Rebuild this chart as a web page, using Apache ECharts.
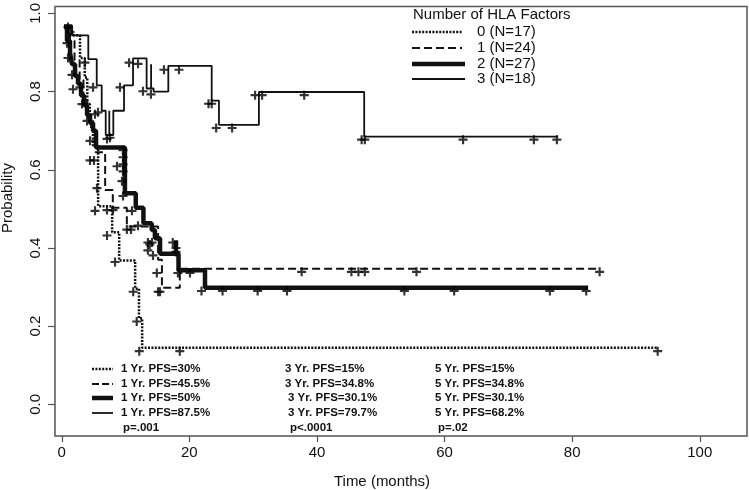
<!DOCTYPE html>
<html><head><meta charset="utf-8">
<script src="https://cdn.jsdelivr.net/npm/echarts@6/dist/echarts.min.js"></script>
<style>html,body{margin:0;padding:0;background:#fff}#c{width:749px;height:490px}</style>
</head><body><div id="c"></div>
<script>
// ---- data ----
const xTicks = [0, 20, 40, 60, 80, 100];
const yTicks = [0, 0.2, 0.4, 0.6, 0.8, 1.0];
const legendTitle = 'Number of HLA Factors';
const groupNames = ['0 (N=17)', '1 (N=24)', '2 (N=27)', '3 (N=18)'];

// Step points: time (months), survival probability from that time on
const g0Time = [0.35, 1.6, 2.86, 3.6, 4.0, 4.4, 4.9, 5.7, 7.9, 9.0, 11.5, 12.1, 12.6, 93.4];
const g0Surv = [0.965, 0.944, 0.886, 0.836, 0.768, 0.725, 0.66, 0.507, 0.44, 0.368, 0.296, 0.22, 0.145, 0.145];

const g1Time = [0.35, 1.3, 2.0, 2.8, 3.4, 4.0, 4.6, 5.3, 6.8, 8.0, 10.2, 15.1, 15.7, 18.5, 84.3];
const g1Surv = [0.965, 0.93, 0.88, 0.83, 0.78, 0.74, 0.70, 0.645, 0.548, 0.503, 0.455, 0.37, 0.298, 0.347, 0.347];

const g2Time = [0.35, 0.82, 1.29, 1.6, 2.08, 2.55, 3.02, 3.49, 3.96, 4.43, 4.9, 5.37, 9.9, 11.6, 12.8, 14.1, 14.6, 15.4, 17.9, 17.9, 18.3, 22.45, 82.5];
const g2Surv = [0.965, 0.93, 0.90, 0.87, 0.84, 0.82, 0.79, 0.765, 0.74, 0.72, 0.70, 0.657, 0.54, 0.503, 0.463, 0.446, 0.425, 0.385, 0.42, 0.385, 0.343, 0.298, 0.298];

const g3Time = [0.35, 1.6, 4.16, 5.48, 6.26, 6.89, 7.45, 7.45, 8.08, 9.76, 11.17, 13.3, 14.0, 14.0, 14.4, 16.7, 23.5, 24.64, 30.9, 47.4, 77.8];
const g3Surv = [0.97, 0.944, 0.883, 0.816, 0.751, 0.689, 0.751, 0.689, 0.751, 0.816, 0.885, 0.808, 0.870, 0.808, 0.800, 0.866, 0.777, 0.715, 0.799, 0.685, 0.685];

// Censoring marks [time, probability]
const g0Censor = [[5.21,0.495],[7.09,0.432],[8.35,0.364],[11.2,0.288],[11.75,0.212],[12.15,0.136],[18.5,0.136],[93.4,0.136]];
const g1Censor = [[0.98,0.886],[2.86,0.811],[4.9,0.811],[5.05,0.624],[4.43,0.624],[5.52,0.553],[8.66,0.609],[7.09,0.497],[8.03,0.497],[10.2,0.447],[10.85,0.447],[11.95,0.457],[13.8,0.409],[13.5,0.394],[14.3,0.381],[14.9,0.336],[15.1,0.288],[15.4,0.288],[17.4,0.414],[37.6,0.339],[45.4,0.339],[46.5,0.339],[47.5,0.339],[55.6,0.339],[84.3,0.339]];
const g2Censor = [[0.82,0.924],[1.61,0.843],[1.76,0.806],[3.17,0.768],[3.96,0.725],[4.43,0.674],[5.21,0.742],[5.68,0.747],[9.6,0.65],[9.6,0.632],[9.6,0.614],[9.6,0.596],[9.44,0.571],[9.6,0.533],[11.0,0.495],[13.5,0.414],[14.14,0.414],[17.9,0.40],[17.9,0.39],[18.2,0.336],[20.1,0.336],[21.9,0.29],[25.2,0.29],[30.7,0.29],[35.3,0.29],[53.7,0.29],[61.5,0.29],[76.5,0.29],[82.2,0.29]];
const g3Censor = [[0.98,0.965],[1.29,0.952],[3.64,0.874],[9.13,0.811],[7.09,0.679],[7.56,0.682],[10.55,0.874],[11.95,0.871],[12.73,0.801],[13.98,0.793],[16.02,0.856],[18.37,0.856],[23.0,0.769],[23.5,0.769],[24.2,0.707],[26.7,0.707],[30.3,0.791],[31.4,0.791],[38.0,0.791],[47.0,0.677],[47.5,0.677],[62.9,0.677],[74.0,0.677],[77.6,0.677]];

const pfs1 = ['1 Yr. PFS=30%', '1 Yr. PFS=45.5%', '1 Yr. PFS=50%', '1 Yr. PFS=87.5%'];
const pfs3 = ['3 Yr. PFS=15%', '3 Yr. PFS=34.8%', '3 Yr. PFS=30.1%', '3 Yr. PFS=79.7%'];
const pfs5 = ['5 Yr. PFS=15%', '5 Yr. PFS=34.8%', '5 Yr. PFS=30.1%', '5 Yr. PFS=68.2%'];
const pValues = ['p=.001', 'p<.0001', 'p=.02'];

// ---- chart ----
const INK = '#111';
const FONT = '"Liberation Sans", Arial, sans-serif';
const lineStyles = [
  { width: 2.5, type: [2, 1.4] },
  { width: 2, type: [8, 4] },
  { width: 4.5, type: 'solid' },
  { width: 1.8, type: 'solid' }
];
const times = [g0Time, g1Time, g2Time, g3Time];
const survs = [g0Surv, g1Surv, g2Surv, g3Surv];
const censors = [g0Censor, g1Censor, g2Censor, g3Censor];
const PLUS = 'path://M3.8,0H6.2V3.8H10V6.2H6.2V10H3.8V6.2H0V3.8H3.8Z';

const series = [];
for (let i = 0; i < 4; i++) {
  series.push({
    name: groupNames[i], type: 'line', step: 'end', symbol: 'none', silent: true,
    data: times[i].map((t, k) => [t, survs[i][k]]),
    lineStyle: { color: INK, width: lineStyles[i].width, type: lineStyles[i].type, cap: 'butt' },
    z: 2
  });
}
for (let i = 0; i < 4; i++) {
  series.push({
    name: groupNames[i] + ' censored', type: 'scatter', symbol: PLUS, symbolSize: 9,
    data: censors[i], itemStyle: { color: '#000' }, silent: true, z: 3
  });
}

const graphic = [];
// legend (top right)
graphic.push({ type: 'text', left: 413, top: 7, style: { text: legendTitle, font: '15px ' + FONT, fill: INK } });
const legRows = [32, 48, 64, 79];
for (let i = 0; i < 4; i++) {
  const ls = lineStyles[i];
  graphic.push({ type: 'line', shape: { x1: 412, y1: legRows[i], x2: i < 2 ? 462 : 465, y2: legRows[i] },
    style: { stroke: INK, lineWidth: ls.width, lineDash: Array.isArray(ls.type) ? ls.type : null } });
  graphic.push({ type: 'text', x: 477, y: legRows[i], style: { text: groupNames[i], font: '15px ' + FONT, fill: INK, verticalAlign: 'middle' } });
}
// PFS block (bottom)
const rowsY = [369, 384, 398, 413];
const col2X = [285, 285, 288, 288];
for (let i = 0; i < 4; i++) {
  const ls = lineStyles[i];
  graphic.push({ type: 'line', shape: { x1: 92, y1: rowsY[i], x2: 113, y2: rowsY[i] },
    style: { stroke: INK, lineWidth: ls.width, lineDash: Array.isArray(ls.type) ? (i === 1 ? [7, 3] : ls.type) : null } });
  graphic.push({ type: 'text', x: 121, y: rowsY[i], style: { text: pfs1[i], font: 'bold 11.5px ' + FONT, fill: INK, verticalAlign: 'middle' } });
  graphic.push({ type: 'text', x: col2X[i], y: rowsY[i], style: { text: pfs3[i], font: 'bold 11.5px ' + FONT, fill: INK, verticalAlign: 'middle' } });
  graphic.push({ type: 'text', x: 435, y: rowsY[i], style: { text: pfs5[i], font: 'bold 11.5px ' + FONT, fill: INK, verticalAlign: 'middle' } });
}
const pX = [123, 290, 438];
for (let j = 0; j < 3; j++) {
  graphic.push({ type: 'text', x: pX[j], y: 428, style: { text: pValues[j], font: 'bold 11.5px ' + FONT, fill: INK, verticalAlign: 'middle' } });
}
// axis titles
graphic.push({ type: 'text', x: 382, y: 482, style: { text: 'Time (months)', font: '15px ' + FONT, fill: INK, align: 'center', verticalAlign: 'middle' } });
graphic.push({ type: 'text', x: 8, y: 198, rotation: Math.PI / 2, style: { text: 'Probability', font: '15px ' + FONT, fill: INK, align: 'center', verticalAlign: 'middle' } });

const chart = echarts.init(document.getElementById('c'), null, { renderer: 'canvas' });
chart.setOption({
  animation: false,
  backgroundColor: '#fff',
  grid: { left: 55, top: 1, right: 2, bottom: 54, show: true, borderColor: '#555', borderWidth: 1.5, backgroundColor: 'transparent', containLabel: false },
  xAxis: {
    type: 'value', min: -1.06, max: 107.4,
    axisLine: { show: false, onZero: false },
    splitLine: { show: false },
    axisTick: { show: true, inside: false, length: 6, customValues: xTicks, lineStyle: { color: '#555', width: 1.2 } },
    axisLabel: { show: true, customValues: xTicks, margin: 9, fontSize: 15, fontFamily: FONT, color: INK },
    minorTick: { show: false }
  },
  yAxis: {
    type: 'value', min: -0.081, max: 1.018,
    axisLine: { show: false, onZero: false },
    splitLine: { show: false },
    axisTick: { show: true, inside: false, length: 7, customValues: yTicks, lineStyle: { color: '#555', width: 1.2 } },
    axisLabel: { show: true, customValues: yTicks, rotate: 90, margin: 12, fontSize: 15, fontFamily: FONT, color: INK,
      formatter: v => Number(v).toFixed(1) }
  },
  legend: { show: false },
  tooltip: { show: false },
  series: series,
  graphic: graphic
});
</script>
</body></html>
